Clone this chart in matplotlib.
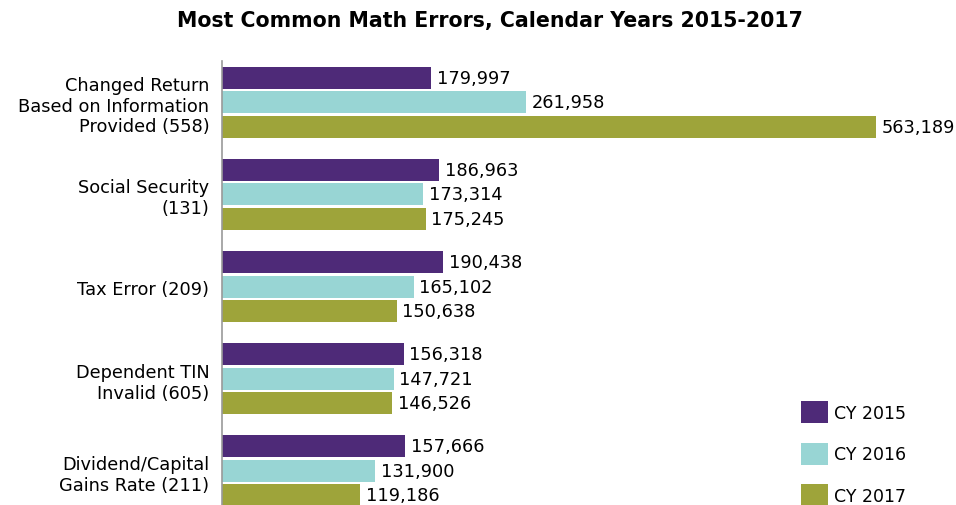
import numpy as np
import matplotlib.pyplot as plt

categories = ["Changed Return\nBased on Information\nProvided (558)",
              "Social Security\n(131)",
              "Tax Error (209)",
              "Dependent TIN\nInvalid (605)",
              "Dividend/Capital\nGains Rate (211)"]
cy2015 = [179997, 186963, 190438, 156318, 157666]
cy2016 = [261958, 173314, 165102, 147721, 131900]
cy2017 = [563189, 175245, 150638, 146526, 119186]
series_names = ["CY 2015", "CY 2016", "CY 2017"]
colors = ["#4e2a78", "#98d5d4", "#9ea43a"]

plt.rcParams['font.family'] = ['DejaVu Sans']

fig = plt.figure(figsize=(9.56, 5.06), dpi=100)
ax = fig.add_axes([0.232, 0.0, 0.76, 0.877])

y = np.arange(len(categories))
step = 0.266
height = 0.24
for i, (vals, name, c) in enumerate(zip([cy2015, cy2016, cy2017], series_names, colors)):
    bars = ax.barh(y + (i - 1) * step, vals, height=height, color=c, label=name)
    ax.bar_label(bars, labels=[f"{v:,}" for v in vals], padding=4, fontsize=12.8)

ax.set_ylim(4.37, -0.445)
ax.set_xlim(0, 625000)
ax.set_yticks(y)
ax.set_yticklabels(categories, fontsize=12.8, ha='right')
ax.tick_params(axis='y', length=0, pad=9)
ax.set_xticks([])
for s in ['top', 'right', 'bottom']:
    ax.spines[s].set_visible(False)
ax.spines['left'].set_color('#999999')
ax.spines['left'].set_linewidth(1.2)

fig.suptitle("Most Common Math Errors, Calendar Years 2015-2017",
             fontsize=14.8, fontweight='bold', x=0.512, y=0.978)

ax.legend(loc='lower left', bbox_to_anchor=(0.822, -0.034), bbox_transform=fig.transFigure,
          frameon=False, fontsize=12.5, handlelength=1.55, handleheight=1.6,
          labelspacing=1.12, handletextpad=0.35)

fig.savefig("out.png", dpi=100)
